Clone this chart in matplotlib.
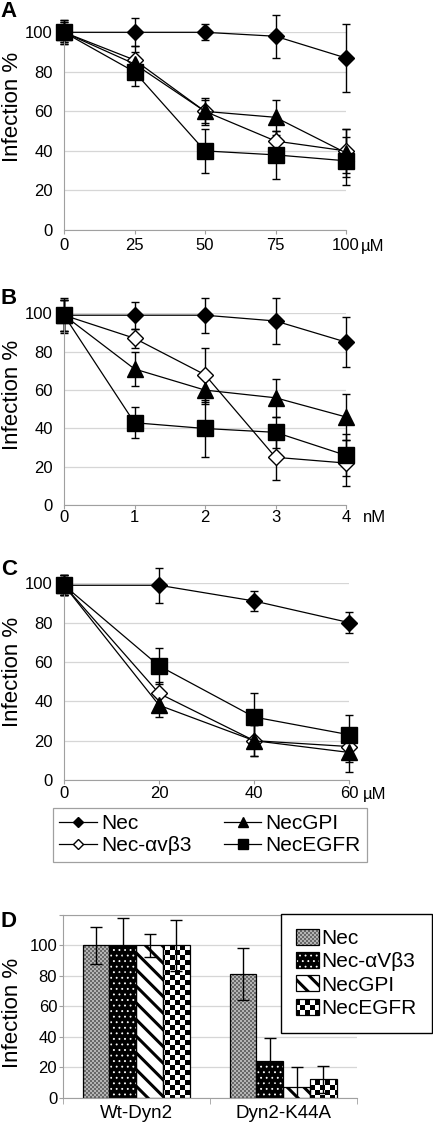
import matplotlib
matplotlib.use("Agg")
import matplotlib.pyplot as plt
import matplotlib.patches as mpatches
import numpy as np
from matplotlib import hatch as mhatch
from matplotlib.path import Path

plt.rcParams['font.family'] = ['Liberation Sans', 'DejaVu Sans']

# ---- data ----
names_line = ['Nec', 'Nec-αvβ3', 'NecGPI', 'NecEGFR']
names_bar = ['Nec', 'Nec-αVβ3', 'NecGPI', 'NecEGFR']

# A: dose in uM
a_dose = [0, 25, 50, 75, 100]
a_nec = [100, 100, 100, 98, 87]
a_nec_err = [6, 7, 4, 11, 17]
a_avb3 = [100, 86, 60, 45, 40]
a_avb3_err = [5, 7, 6, 5, 11]
a_gpi = [100, 84, 60, 57, 39]
a_gpi_err = [5, 6, 7, 9, 12]
a_egfr = [100, 80, 40, 38, 35]
a_egfr_err = [6, 7, 11, 12, 12]

# B: dose in nM
b_dose = [0, 1, 2, 3, 4]
b_nec = [99, 99, 99, 96, 85]
b_nec_err = [9, 7, 9, 12, 13]
b_avb3 = [99, 87, 68, 25, 22]
b_avb3_err = [8, 5, 14, 12, 12]
b_gpi = [99, 71, 60, 56, 46]
b_gpi_err = [8, 9, 7, 10, 12]
b_egfr = [99, 43, 40, 38, 26]
b_egfr_err = [8, 8, 15, 8, 11]

# C: dose in uM
c_dose = [0, 20, 40, 60]
c_nec = [99, 99, 91, 80]
c_nec_err = [5, 9, 5, 5.5]
c_avb3 = [99, 44, 20, 17]
c_avb3_err = [5, 6, 8, 8]
c_gpi = [99, 38, 20, 14]
c_gpi_err = [5, 6, 8, 10]
c_egfr = [99, 58, 32, 23]
c_egfr_err = [5, 9, 12, 10]

# D: bars
d_groups = ['Wt-Dyn2', 'Dyn2-K44A']
d_nec = [100, 81]
d_nec_err = [12, 17]
d_avb3 = [100, 24]
d_avb3_err = [18, 15]
d_gpi = [100, 7]
d_gpi_err = [7.5, 13]
d_egfr = [100, 12]
d_egfr_err = [17, 9]


# checkerboard hatch ('c' = 10 cells per hatch tile)
class CheckerHatch(mhatch.HatchPatternBase):
    def __init__(self, hatch, density):
        self.n = hatch.count('c') * 10
        self.num_vertices = (self.n * self.n // 2) * 5

    def set_vertices_and_codes(self, vertices, codes):
        s = 1.0 / self.n
        k = 0
        for i in range(self.n):
            for j in range(self.n):
                if (i + j) % 2:
                    continue
                vertices[k:k + 5] = [(i * s, j * s), ((i + 1) * s, j * s),
                                     ((i + 1) * s, (j + 1) * s), (i * s, (j + 1) * s),
                                     (i * s, j * s)]
                codes[k:k + 5] = [Path.MOVETO, Path.LINETO, Path.LINETO,
                                  Path.LINETO, Path.CLOSEPOLY]
                k += 5


mhatch._hatch_types.append(CheckerHatch)

GRID = '#d6d6d6'
SPINE = '#a0a0a0'
W, H = 433, 1127

fig = plt.figure(figsize=(W / 100, H / 100), dpi=100)


def fig_rect(x0, y_top, x1, y_bot):
    return [x0 / W, 1 - y_bot / H, (x1 - x0) / W, (y_bot - y_top) / H]


line_styles = [
    dict(marker='D', ms=8, mfc='black', mec='black'),
    dict(marker='D', ms=8, mfc='white', mec='black', mew=1.0),
    dict(marker='^', ms=12, mfc='black', mec='black'),
    dict(marker='s', ms=11, mfc='black', mec='black'),
]


def line_panel(ax, x, ys, errs, xpad, ylab_y):
    for y, e in zip(ys, errs):
        eb = ax.errorbar(x, y, yerr=e, fmt='none', ecolor='black',
                         elinewidth=1.0, capsize=3, capthick=1.0, zorder=2)
        for art in eb.get_children():
            art.set_clip_on(False)
    handles = []
    for y, st in zip(ys, line_styles):
        ln, = ax.plot(x, y, color='black', lw=0.9, clip_on=False, zorder=3, **st)
        handles.append(ln)
    ax.set_xlim(x[0], x[-1])
    ax.set_ylim(0, 100)
    ax.set_xticks(x)
    ax.set_yticks([0, 20, 40, 60, 80, 100])
    ax.yaxis.grid(True, color=GRID, lw=0.9)
    ax.set_axisbelow(True)
    for s in ['top', 'right']:
        ax.spines[s].set_visible(False)
    for s in ['left', 'bottom']:
        ax.spines[s].set_color(SPINE)
    ax.tick_params(axis='y', length=0, pad=8, labelsize=12)
    ax.tick_params(axis='x', length=3, color=SPINE, pad=xpad, labelsize=12)
    ax.set_ylabel('Infection %', fontsize=16)
    ax.yaxis.set_label_coords(-0.145, ylab_y)
    return handles


ax_a = fig.add_axes(fig_rect(64, 32.3, 346, 230))
line_panel(ax_a, a_dose, [a_nec, a_avb3, a_gpi, a_egfr],
           [a_nec_err, a_avb3_err, a_gpi_err, a_egfr_err], 3, 0.62)
fig.text(361 / W, 1 - 247 / H, 'µM', fontsize=12, ha='left', va='center')

ax_b = fig.add_axes(fig_rect(64, 313.3, 346, 505.3))
line_panel(ax_b, b_dose, [b_nec, b_avb3, b_gpi, b_egfr],
           [b_nec_err, b_avb3_err, b_gpi_err, b_egfr_err], 0.3, 0.574)
fig.text(363 / W, 1 - 518 / H, 'nM', fontsize=12, ha='left', va='center')

ax_c = fig.add_axes(fig_rect(64, 583.3, 349.3, 780))
handles_c = line_panel(ax_c, c_dose, [c_nec, c_avb3, c_gpi, c_egfr],
                       [c_nec_err, c_avb3_err, c_gpi_err, c_egfr_err], 1.5, 0.549)
fig.text(363 / W, 1 - 795 / H, 'µM', fontsize=12, ha='left', va='center')

leg_c = ax_c.legend(handles_c, names_line, ncol=2, loc='upper left',
                    bbox_to_anchor=(53 / W, 1 - 869 / H, 314 / W, 61 / H),
                    bbox_transform=fig.transFigure, mode='expand', borderaxespad=0,
                    fontsize=15, handlelength=1.8, handletextpad=0.2,
                    markerscale=0.65, fancybox=False, edgecolor=SPINE,
                    framealpha=1, borderpad=0.3, labelspacing=0.15)
leg_c.get_frame().set_linewidth(0.9)

# ---- D: bar chart ----
ax_d = fig.add_axes(fig_rect(62.7, 915, 356.7, 1097.7))
bar_styles = [
    dict(face='#b4b4b4', hcol='#686868', hatch='ccccc', hlw=0.0),
    dict(face='black', hcol='white', hatch='...', hlw=0.6),
    dict(face='white', hcol='black', hatch='\\\\', hlw=2.2),
    dict(face='white', hcol='black', hatch='cc', hlw=0.0),
]
d_vals = [d_nec, d_avb3, d_gpi, d_egfr]
d_errs = [d_nec_err, d_avb3_err, d_gpi_err, d_egfr_err]
xd = np.arange(len(d_groups))
bw = 0.1825
bar_handles = []
for i, (v, e, st) in enumerate(zip(d_vals, d_errs, bar_styles)):
    pos = xd + (i - 1.5) * bw
    b1 = ax_d.bar(pos, v, bw, color=st['face'], edgecolor=st['hcol'],
                  linewidth=0, hatch=st['hatch'], zorder=2)
    for p in b1:
        p.set_hatch_linewidth(st['hlw'])
    b2 = ax_d.bar(pos, v, bw, fill=False, edgecolor='black', linewidth=0.9, zorder=2.5)
    ax_d.errorbar(pos, v, yerr=e, fmt='none', ecolor='black', elinewidth=1.0,
                  capsize=4, capthick=1.0, zorder=3)
    bar_handles.append((b1, b2))

ax_d.set_xlim(-0.5, 1.5)
ax_d.set_ylim(0, 120)
ax_d.set_yticks([0, 20, 40, 60, 80, 100, 120])
ax_d.set_yticklabels(['0', '20', '40', '60', '80', '100', ''])
ax_d.set_xticks(xd)
ax_d.set_xticklabels(d_groups)
ax_d.set_xticks([-0.5, 0.5, 1.5], minor=True)
ax_d.yaxis.grid(True, color=GRID, lw=0.9)
ax_d.set_axisbelow(True)
ax_d.spines['right'].set_visible(False)
for s in ['left', 'bottom', 'top']:
    ax_d.spines[s].set_color(SPINE)
ax_d.tick_params(axis='y', length=3, color=SPINE, pad=1, labelsize=12)
ax_d.tick_params(axis='x', which='major', length=0, pad=5, labelsize=13.5)
ax_d.tick_params(axis='x', which='minor', length=4, color=SPINE)
ax_d.set_ylabel('Infection %', fontsize=16)
ax_d.yaxis.set_label_coords(-0.135, 0.464)

leg_d = ax_d.legend(bar_handles, names_bar, loc='upper left',
                    bbox_to_anchor=(281 / W, 1 - 1039 / H, 151 / W, 125 / H),
                    bbox_transform=fig.transFigure, mode='expand', borderaxespad=0,
                    fontsize=15, handlelength=1.1, handleheight=0.8,
                    handletextpad=0.15, labelspacing=0.2, borderpad=0.7,
                    fancybox=False, edgecolor='black', framealpha=1)
leg_d.get_frame().set_linewidth(1.0)
# legend swatches do not carry the per-bar hatch width, set it again
hatch_lw = {st['hatch']: st['hlw'] for st in bar_styles}
for r in leg_d.findobj(mpatches.Rectangle):
    if r.get_hatch() in hatch_lw:
        r.set_hatch_linewidth(hatch_lw[r.get_hatch()])

# panel letters
for lab, ytop in zip(['A', 'B', 'C', 'D'], [1, 288, 559, 911]):
    fig.text(0.002, 1 - ytop / H, lab, fontsize=16, fontweight='bold',
             ha='left', va='top')

fig.savefig('out.png', dpi=100)
